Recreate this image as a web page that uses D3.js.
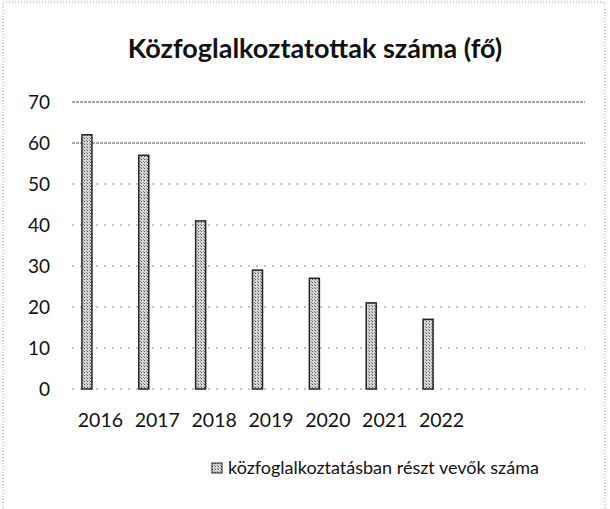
<!DOCTYPE html>
<html>
<head>
<meta charset="utf-8">
<script src="https://cdn.jsdelivr.net/npm/d3@7"></script>
<style>
  body { margin: 0; background: #fff; }
  text { font-family: Lato, "Open Sans", sans-serif; fill: #111; }
</style>
</head>
<body>
<svg width="610" height="509"></svg>
<script>
// data
var years = ["2016", "2017", "2018", "2019", "2020", "2021", "2022"];
var counts = [62, 57, 41, 29, 27, 21, 17];
var yTicks = [0, 10, 20, 30, 40, 50, 60, 70];
var title = "Közfoglalkoztatottak száma (fő)";
var seriesName = "közfoglalkoztatásban részt vevők száma";

var svg = d3.select("svg"),
    width = 610,
    height = 509

// scanned-look stipple pattern
var defs = svg.append("defs")
var pat = defs.append("pattern")
    .attr("id", "stip")
    .attr("width", 3).attr("height", 3)
    .attr("patternUnits", "userSpaceOnUse")
pat.append("rect").attr("width", 3).attr("height", 3).attr("fill", "#d6d6d6")
pat.append("rect").attr("width", 1).attr("height", 1).attr("fill", "#555")
pat.append("rect").attr("x", 2).attr("y", 2).attr("width", 1).attr("height", 1).attr("fill", "#888")

// chart frame (dotted, like the scan)
svg.append("rect")
    .attr("x", 3).attr("y", 2)
    .attr("width", 602).attr("height", 520)
    .attr("fill", "none")
    .attr("stroke", "#999")
    .attr("stroke-dasharray", "1,2")

// scales
var y = d3.scaleLinear()
    .domain([0, 70])
    .range([389, 102])

var x = d3.scaleBand()
    .domain(years)
    .range([72, 470])

var gridLeft = 72, gridRight = 585

// gridlines
svg.append("g")
  .selectAll("line")
  .data(yTicks)
  .enter()
  .append("line")
    .attr("x1", gridLeft)
    .attr("x2", gridRight)
    .attr("y1", function(d){ return y(d) })
    .attr("y2", function(d){ return y(d) })
    .attr("stroke", function(d){ return d >= 60 ? "#555" : "#888" })
    .attr("stroke-width", 1)
    .attr("stroke-dasharray", function(d){ return d >= 60 ? "3,1" : "2,6" })

// y labels
svg.append("g")
  .selectAll("text")
  .data(yTicks)
  .enter()
  .append("text")
    .attr("x", 50)
    .attr("y", function(d){ return y(d) })
    .attr("dy", "0.35em")
    .attr("text-anchor", "end")
    .style("font-size", "19px")
    .text(function(d){ return d })

// bars (offset left inside each category, as in the source)
var barW = 10
svg.append("g")
  .selectAll("rect")
  .data(counts)
  .enter()
  .append("rect")
    .attr("x", function(d, i){ return x(years[i]) + x.bandwidth() / 2 - 13.5 - barW / 2 })
    .attr("y", function(d){ return y(d) })
    .attr("width", barW)
    .attr("height", function(d){ return y(0) - y(d) })
    .attr("fill", "url(#stip)")
    .attr("stroke", "#222")
    .attr("stroke-width", 1.5)

// x labels
svg.append("g")
  .selectAll("text")
  .data(years)
  .enter()
  .append("text")
    .attr("x", function(d){ return x(d) + x.bandwidth() / 2 })
    .attr("y", 427)
    .attr("text-anchor", "middle")
    .style("font-size", "19.5px")
    .text(function(d){ return d })

// title
svg.append("text")
    .attr("x", 315)
    .attr("y", 58)
    .attr("text-anchor", "middle")
    .style("font-size", "27px")
    .style("font-weight", "bold")
    .text(title)

// legend
var leg = svg.append("g").attr("transform", "translate(212,463)")
leg.append("rect")
    .attr("width", 10).attr("height", 10)
    .attr("fill", "url(#stip)")
    .attr("stroke", "#222")
leg.append("text")
    .attr("x", 16)
    .attr("y", 5)
    .attr("dy", "0.35em")
    .style("font-size", "18px")
    .text(seriesName)
</script>
</body>
</html>
